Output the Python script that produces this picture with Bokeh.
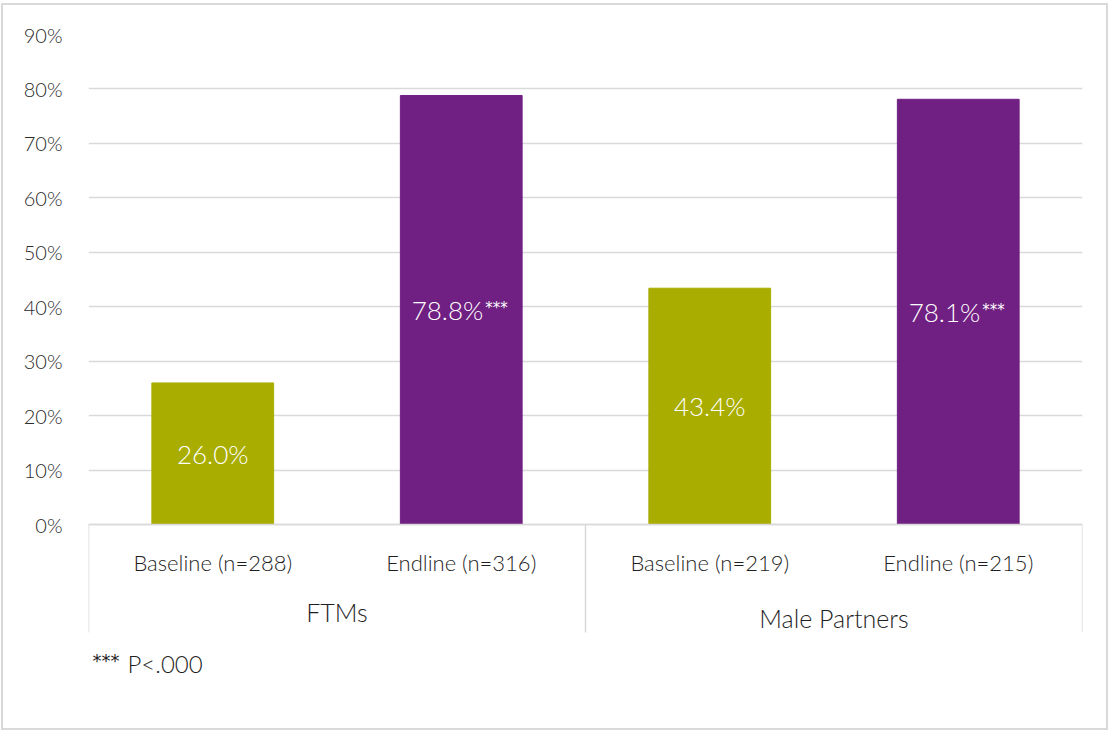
from bokeh.plotting import figure
from bokeh.models import ColumnDataSource, FixedTicker, PrintfTickFormatter, Range1d
from bokeh.core.properties import value
from bokeh.embed import file_html
from bokeh.resources import INLINE

# ---- data ----
groups = ["FTMs", "Male Partners"]
rounds = ["Baseline (n=288)", "Endline (n=316)", "Baseline (n=219)", "Endline (n=215)"]
bar_group = ["FTMs", "FTMs", "Male Partners", "Male Partners"]
values = [26.0, 78.8, 43.4, 78.1]
sig = ["", "***", "", "***"]
bar_colors = ["#A8AD00", "#702082", "#A8AD00", "#702082"]
y_ticks = [0, 10, 20, 30, 40, 50, 60, 70, 80, 90]
footnote_mark = "***"
footnote_text = "P<.000"

# ---- layout constants (internal canvas px) ----
W, H = 1107, 727
FL, FR, FT, FB = 85, 1079, 29, 695
PX = 490 / 90.0              # pixels per percentage point
y_top = 90
y_bot = y_top - (FB - FT) / PX
FONT_NAME = "'Lato Light', Lato"
FONT = value(FONT_NAME)
STAR = value("DejaVu Sans")
GRID = "#d9d9d9"
TXT = "#1f1f1f"

n = len(rounds)
xs = [i + 0.5 for i in range(n)]

p = figure(width=W, height=H, x_range=Range1d(0, n), y_range=Range1d(y_bot, y_top),
           output_backend="svg", toolbar_location=None, x_axis_type=None,
           min_border_left=FL, min_border_right=W - FR, min_border_top=FT,
           min_border_bottom=H - FB, outline_line_color=None,
           background_fill_color="white", border_fill_color="white")
p.styles = {"border": "2px solid #d9d9d9", "margin": "3px 0 0 1px"}

# axes / grid
p.yaxis.ticker = FixedTicker(ticks=y_ticks)
p.yaxis.formatter = PrintfTickFormatter(format="%d%%")
p.yaxis.axis_line_color = None
p.yaxis.major_tick_line_color = None
p.yaxis.minor_tick_line_color = None
p.yaxis.major_tick_out = 0
p.yaxis.major_label_standoff = 26
p.yaxis.major_label_text_font = FONT_NAME
p.yaxis.major_label_text_font_size = "20px"
p.yaxis.major_label_text_color = "#2b2b2b"
p.xgrid.visible = False
p.ygrid.ticker = FixedTicker(ticks=y_ticks)
p.ygrid.grid_line_color = GRID
p.ygrid.grid_line_width = 1.5

# bars
src = ColumnDataSource(dict(x=xs, top=values, color=bar_colors))
p.vbar(x="x", top="top", bottom=0, width=0.49, color="color", source=src)

# group separators below the axis
counts = [bar_group.count(g) for g in groups]
seps = [0]
for c in counts:
    seps.append(seps[-1] + c)
sep_low = -(632 - 524) / PX
p.segment(x0=seps, y0=[0] * len(seps), x1=seps, y1=[sep_low] * len(seps),
          line_color=GRID, line_width=1.5)
p.segment(x0=[0], y0=[0], x1=[n], y1=[0], line_color=GRID, line_width=1.5)

# category labels
p.text(x=xs, y=[-38 / PX] * n, text=rounds, text_align="center", text_baseline="middle",
       text_font=FONT, text_font_size="22px", text_color=TXT)
gx = [(seps[i] + seps[i + 1]) / 2 for i in range(len(groups))]
gy = [-(611 - 524) / PX, -(617 - 524) / PX]
p.text(x=gx, y=gy, text=groups, text_align="center",
       text_baseline="middle", text_font=FONT, text_font_size="25px", text_color=TXT)

# value labels inside bars
plain = [i for i in range(n) if not sig[i]]
star = [i for i in range(n) if sig[i]]
p.text(x=[xs[i] for i in plain], y=[values[i] / 2 for i in plain],
       text=[f"{values[i]:.1f}%" for i in plain], text_align="center", text_baseline="middle",
       text_font=FONT, text_font_size="26px", text_color="white")
p.text(x=[xs[i] for i in star], y=[values[i] / 2 for i in star],
       text=[f"{values[i]:.1f}%" for i in star], text_align="right", text_baseline="middle",
       x_offset=22, text_font=FONT, text_font_size="26px", text_color="white")
p.text(x=[xs[i] for i in star], y=[values[i] / 2 for i in star],
       text=[sig[i] for i in star], text_align="left", text_baseline="middle",
       x_offset=24, y_offset=-2, text_font=STAR, text_font_size="15px", text_color="white")

# footnote
fy = -(663 - 524) / PX
p.text(x=[0], y=[fy], text=[footnote_mark], text_align="left", text_baseline="middle",
       x_offset=4, y_offset=-3, text_font=STAR, text_font_size="18px", text_color=TXT)
p.text(x=[0], y=[fy], text=[footnote_text], text_align="left", text_baseline="middle",
       x_offset=39, text_font=FONT, text_font_size="24px", text_color=TXT)

open("out.html", "w").write(file_html(p, INLINE))
